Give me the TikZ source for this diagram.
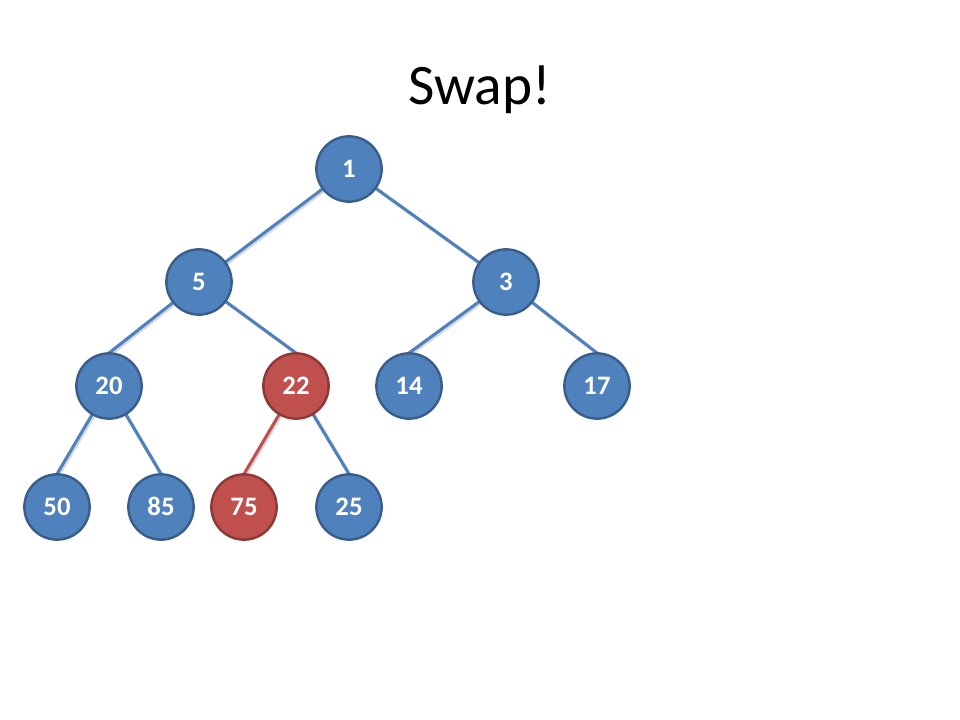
\documentclass[tikz,border=0pt]{standalone}
\usepackage{fontspec}
\setmainfont{Carlito}
\definecolor{nblue}{HTML}{4F81BD}
\definecolor{nblueb}{HTML}{385D8A}
\definecolor{nred}{HTML}{C0504D}
\definecolor{nredb}{HTML}{8C3836}
\begin{document}
\begin{tikzpicture}[x=0.75pt,y=-0.75pt,
  hnode/.style={circle,fill=nblue,draw=nblueb,line width=1.8pt,minimum size=49pt,inner sep=0pt,text=white,text height=12.7pt,text depth=0pt,font=\fontsize{20}{22}\selectfont\bfseries},
  rnode/.style={hnode,fill=nred,draw=nredb},
  edge/.style={draw=nblue,line width=2.3pt},
  redge/.style={draw=nred,line width=2.3pt},
  eshadow/.style={draw=black!15,line width=2.3pt,transform canvas={xshift=1.2pt,yshift=-1.2pt}}]
\useasboundingbox (0,0) rectangle (960,720);
\node (title) at (480,90) {\fontsize{43}{47}\selectfont Swap!};
\coordinate (c1) at (349,169);
\coordinate (c5) at (199,282);
\coordinate (c3) at (506,282);
\coordinate (c20) at (109,386);
\coordinate (c22) at (296,386);
\coordinate (c14) at (409,386);
\coordinate (c17) at (597,386);
\coordinate (c50) at (57,507);
\coordinate (c85) at (161,507);
\coordinate (c75) at (244,507);
\coordinate (c25) at (349,507);
\coordinate (t20) at (109,353);
\coordinate (t22) at (296,353);
\coordinate (t14) at (409,353);
\coordinate (t17) at (597,353);
\coordinate (t50) at (57,474);
\coordinate (t85) at (161,474);
\coordinate (t75) at (244,474);
\coordinate (t25) at (349,474);
\foreach \a/\b in {c1/c5,c1/c3,c5/t20,c5/t22,c3/t14,c3/t17,c20/t50,c20/t85,c22/t75,c22/t25}
  \draw[eshadow] (\a) -- (\b);
\draw[edge] (c1) -- (c5);
\draw[edge] (c1) -- (c3);
\draw[edge] (c5) -- (t20);
\draw[edge] (c5) -- (t22);
\draw[edge] (c3) -- (t14);
\draw[edge] (c3) -- (t17);
\draw[edge] (c20) -- (t50);
\draw[edge] (c20) -- (t85);
\draw[redge] (c22) -- (t75);
\draw[edge] (c22) -- (t25);
\node[hnode] (n1) at (c1) {1};
\node[hnode] (n5) at (c5) {5};
\node[hnode] (n3) at (c3) {3};
\node[hnode] (n20) at (c20) {20};
\node[rnode] (n22) at (c22) {22};
\node[hnode] (n14) at (c14) {14};
\node[hnode] (n17) at (c17) {17};
\node[hnode] (n50) at (c50) {50};
\node[hnode] (n85) at (c85) {85};
\node[rnode] (n75) at (c75) {75};
\node[hnode] (n25) at (c25) {25};
\end{tikzpicture}
\end{document}
